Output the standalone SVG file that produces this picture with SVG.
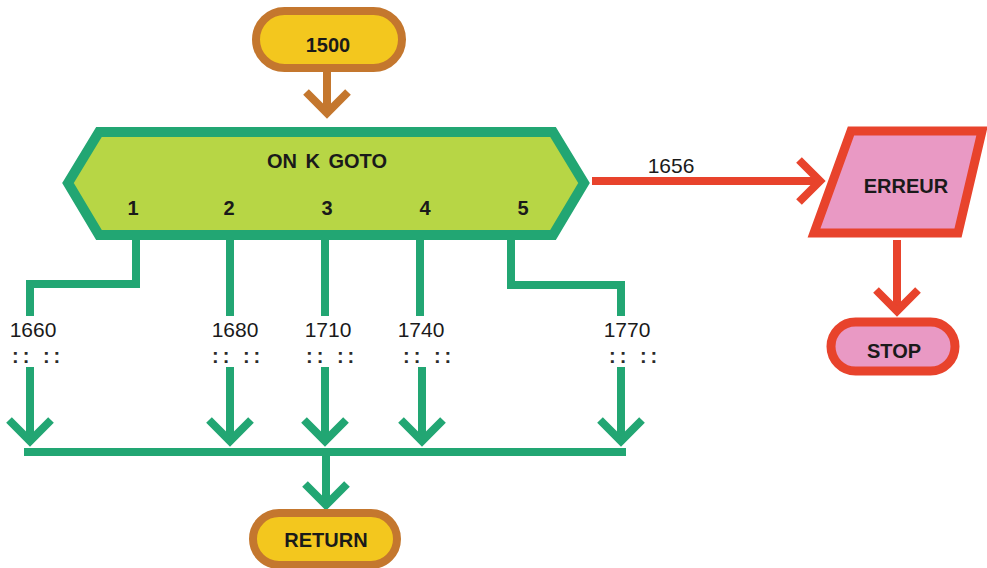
<svg xmlns="http://www.w3.org/2000/svg" width="987" height="568" viewBox="0 0 987 568">
  <style>
    .lbl { font-family: "Liberation Sans", Arial, sans-serif; font-size: 20px; font-weight: bold; fill: #1a1a1a; text-anchor: middle; }
    .num { font-family: "Liberation Sans", Arial, sans-serif; font-size: 21px; fill: #1a1a1a; text-anchor: middle; }
    .dots { font-family: "Liberation Sans", Arial, sans-serif; font-size: 20px; font-weight: bold; fill: #2a2a2a; letter-spacing: 4px; }
    .term { fill: #f3c71e; stroke: #c4772e; stroke-width: 8; }
    .err { fill: #e999c4; stroke: #e8432c; stroke-width: 9; stroke-linejoin: miter; }
    .g { fill: none; stroke: #22a673; stroke-width: 8; stroke-linejoin: miter; }
    .r { fill: none; stroke: #e8432c; stroke-width: 8; }
    .b { fill: none; stroke: #c4772e; stroke-width: 8; }
  </style>
  <defs>
    <marker id="ahG" markerUnits="userSpaceOnUse" viewBox="-30 -30 40 60" markerWidth="40" markerHeight="60" refX="0" refY="0" orient="auto" overflow="visible">
      <path d="M-22,-21 L-1,0 L-22,21" fill="none" stroke="#22a673" stroke-width="8"/>
    </marker>
    <marker id="ahR" markerUnits="userSpaceOnUse" viewBox="-30 -30 40 60" markerWidth="40" markerHeight="60" refX="0" refY="0" orient="auto" overflow="visible">
      <path d="M-22,-21 L-1,0 L-22,21" fill="none" stroke="#e8432c" stroke-width="8"/>
    </marker>
    <marker id="ahB" markerUnits="userSpaceOnUse" viewBox="-30 -30 40 60" markerWidth="40" markerHeight="60" refX="0" refY="0" orient="auto" overflow="visible">
      <path d="M-22,-21 L-1,0 L-22,21" fill="none" stroke="#c4772e" stroke-width="8"/>
    </marker>
  </defs>

  <rect width="987" height="568" fill="#ffffff"/>

  <!-- connectors -->
  <g id="connectors">
    <line class="b" x1="327" y1="72" x2="327" y2="114" marker-end="url(#ahB)"/>
    <!-- branches out of ON K GOTO -->
    <polyline class="g" points="136,240 136,284 30,284 30,316"/>
    <line class="g" x1="230" y1="240" x2="230" y2="316"/>
    <line class="g" x1="325" y1="240" x2="325" y2="316"/>
    <line class="g" x1="420" y1="240" x2="420" y2="316"/>
    <polyline class="g" points="511,240 511,285 621,285 621,316"/>
    <!-- returns to common bus -->
    <line class="g" x1="30" y1="367" x2="30" y2="442" marker-end="url(#ahG)"/>
    <line class="g" x1="230" y1="367" x2="230" y2="442" marker-end="url(#ahG)"/>
    <line class="g" x1="325" y1="367" x2="325" y2="442" marker-end="url(#ahG)"/>
    <line class="g" x1="422" y1="367" x2="422" y2="442" marker-end="url(#ahG)"/>
    <line class="g" x1="621" y1="367" x2="621" y2="442" marker-end="url(#ahG)"/>
    <line class="g" x1="24" y1="452" x2="626" y2="452"/>
    <line class="g" x1="326" y1="456" x2="326" y2="506" marker-end="url(#ahG)"/>
    <!-- error path -->
    <line class="r" x1="592" y1="181" x2="821" y2="181" marker-end="url(#ahR)"/>
    <line class="r" x1="897" y1="240" x2="897" y2="312" marker-end="url(#ahR)"/>

    <text class="num" x="33" y="337">1660</text>
    <text class="num" x="235" y="337">1680</text>
    <text class="num" x="328" y="337">1710</text>
    <text class="num" x="421" y="337">1740</text>
    <text class="num" x="627" y="337">1770</text>
    <text class="num" x="671" y="173">1656</text>

    <text class="dots" x="12" y="363">::  ::</text>
    <text class="dots" x="212" y="363">::  ::</text>
    <text class="dots" x="306" y="363">::  ::</text>
    <text class="dots" x="403" y="363">::  ::</text>
    <text class="dots" x="609" y="363">::  ::</text>
  </g>

  <g id="start">
    <rect class="term" x="256" y="11" width="146" height="57" rx="28.5"/>
    <text class="lbl" x="328" y="52">1500</text>
  </g>

  <g id="on-k-goto">
    <path d="M68,183 L99,132 L553,132 L584,183 L553,235 L99,235 Z" fill="#b7d645" stroke="#22a673" stroke-width="10" stroke-linejoin="miter"/>
    <text class="lbl" x="327" y="168" word-spacing="3">ON K GOTO</text>
    <text class="lbl" x="133" y="215">1</text>
    <text class="lbl" x="229" y="215">2</text>
    <text class="lbl" x="327" y="215">3</text>
    <text class="lbl" x="425" y="215">4</text>
    <text class="lbl" x="523" y="215">5</text>
  </g>

  <g id="erreur">
    <path class="err" d="M851,131 L982,131 L958,233 L814,233 Z"/>
    <text class="lbl" x="906" y="193">ERREUR</text>
  </g>

  <g id="stop">
    <rect class="err" x="831" y="322" width="124" height="49" rx="24.5"/>
    <text class="lbl" x="894" y="358">STOP</text>
  </g>

  <g id="return">
    <rect class="term" x="253" y="513" width="144" height="52" rx="26"/>
    <text class="lbl" x="326" y="547">RETURN</text>
  </g>
</svg>
